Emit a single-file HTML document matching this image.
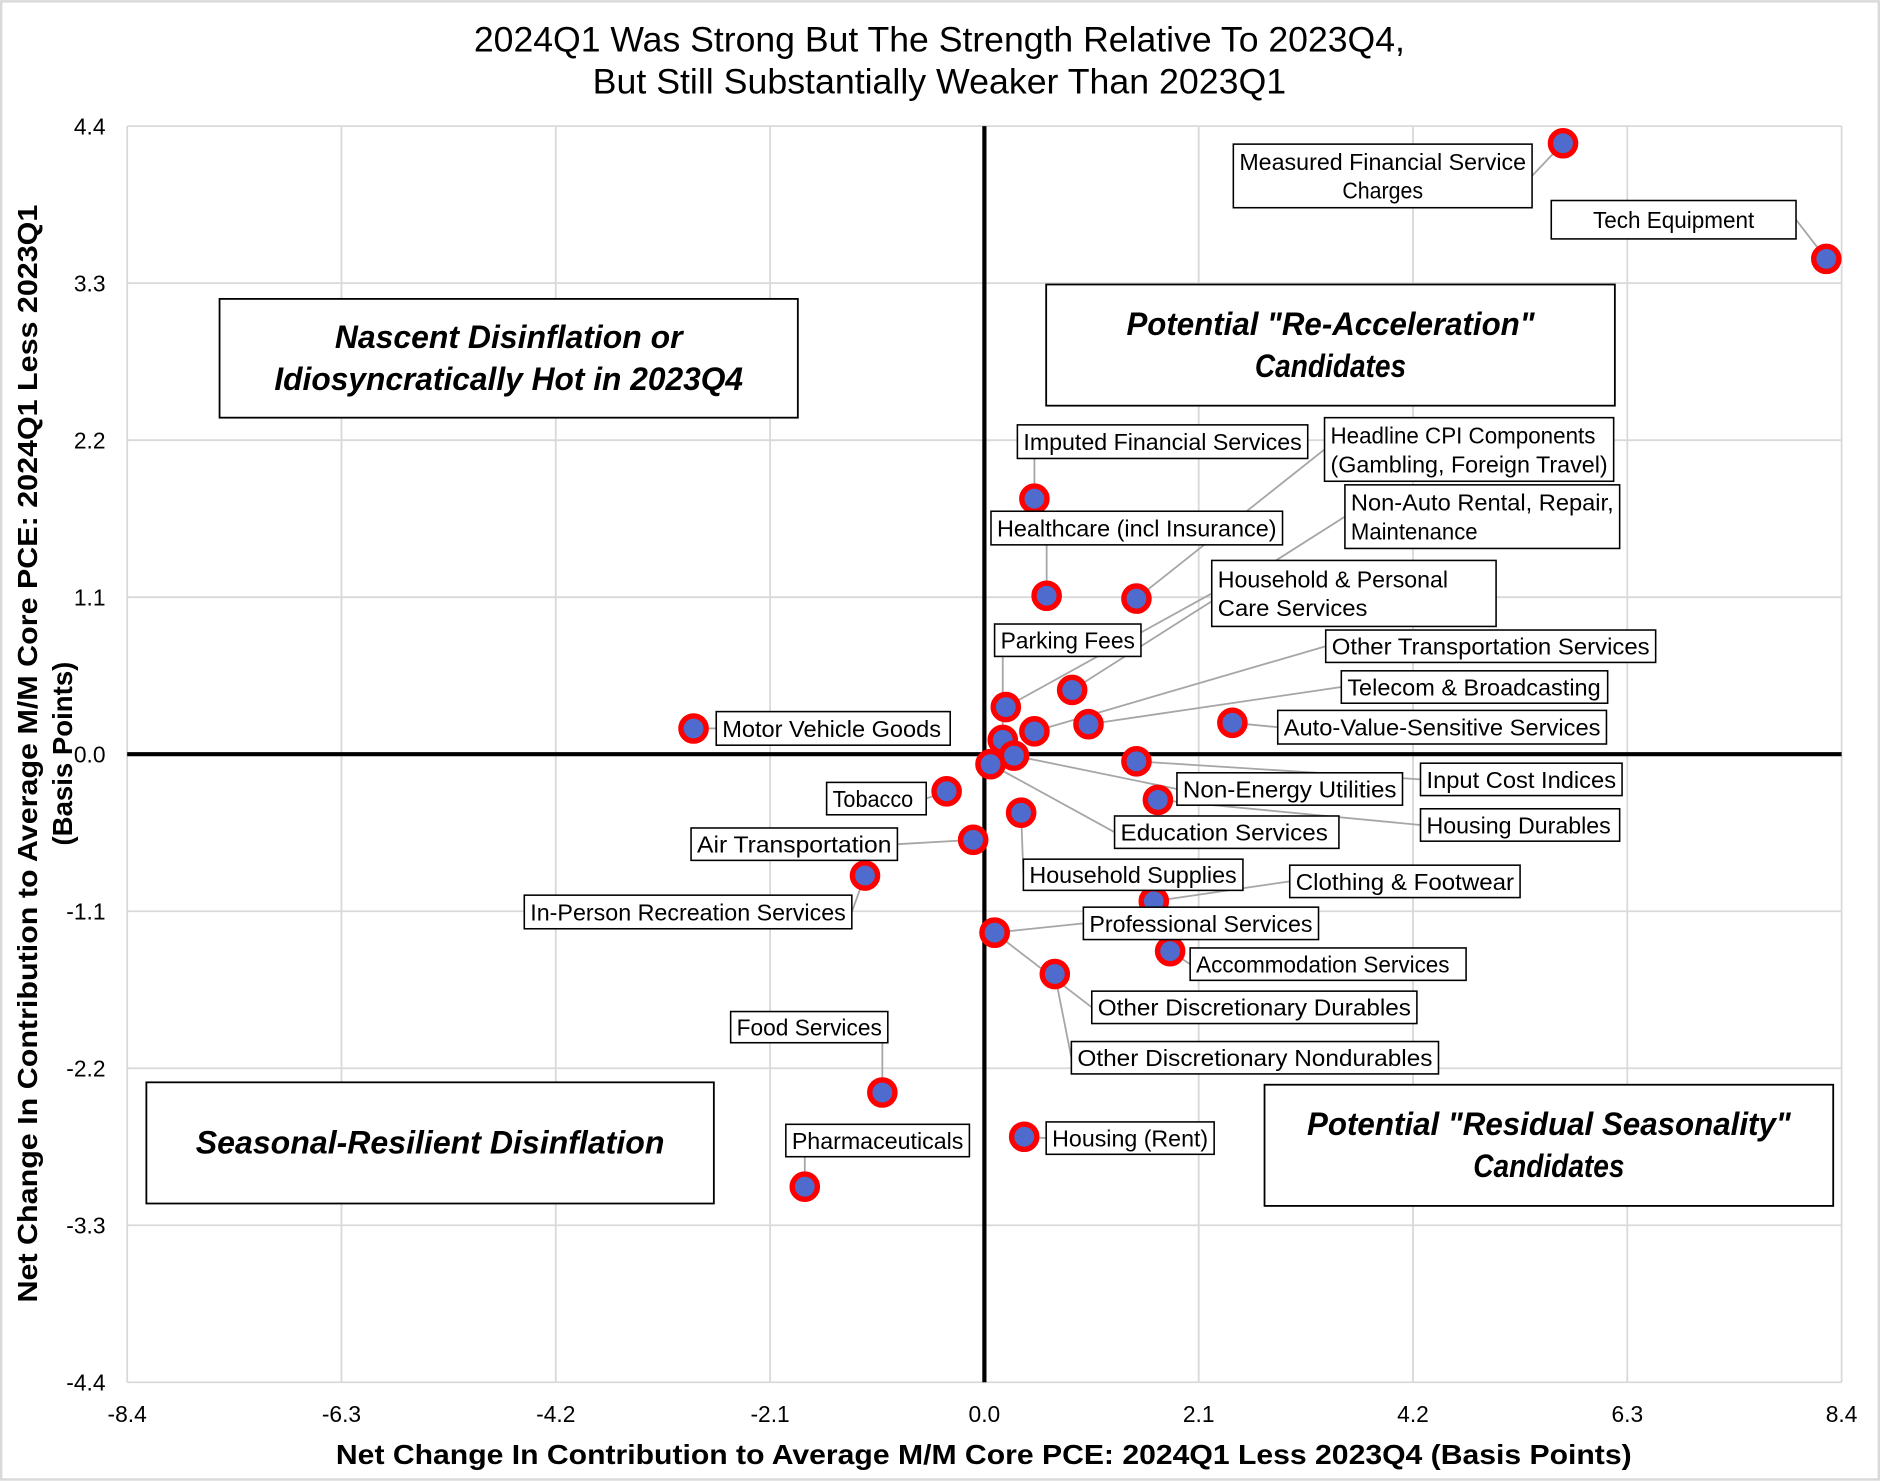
<!DOCTYPE html>
<html><head><meta charset="utf-8"><style>
html,body{margin:0;padding:0;background:#fff}
svg{display:block}
text{font-family:"Liberation Sans",sans-serif;fill:#000}
</style></head><body>
<svg id="chart" width="1880" height="1482" viewBox="0 0 1567 1235" xmlns="http://www.w3.org/2000/svg">
<rect x="1" y="1" width="1565" height="1232" fill="#fff" stroke="#d9d9d9" stroke-width="2"/>
<text x="783" y="43" font-size="29" text-anchor="middle" textLength="776" lengthAdjust="spacingAndGlyphs">2024Q1 Was Strong But The Strength Relative To 2023Q4,</text>
<text x="783" y="78" font-size="29" text-anchor="middle" textLength="578" lengthAdjust="spacingAndGlyphs">But Still Substantially Weaker Than 2023Q1</text>
<g id="grid"></g>
<g id="axes"></g>
<g id="quads"></g>
<g id="leaders"></g>
<g id="points"></g>
<g id="labels"></g>
<text x="820" y="1220" font-size="23" font-weight="bold" text-anchor="middle" textLength="1080" lengthAdjust="spacingAndGlyphs">Net Change In Contribution to Average M/M Core PCE: 2024Q1 Less 2023Q4 (Basis Points)</text>
<text transform="translate(31,628) rotate(-90)" font-size="23" font-weight="bold" text-anchor="middle" textLength="915" lengthAdjust="spacingAndGlyphs">Net Change In Contribution to Average M/M Core PCE: 2024Q1 Less 2023Q1</text>
<text transform="translate(60,628) rotate(-90)" font-size="23" font-weight="bold" text-anchor="middle">(Basis Points)</text>
</svg>
<script>
const xTicks = [-8.4,-6.3,-4.2,-2.1,0.0,2.1,4.2,6.3,8.4];
const yTicks = [4.4,3.3,2.2,1.1,0.0,-1.1,-2.2,-3.3,-4.4];
const names = ["Measured Financial Service Charges","Tech Equipment","Imputed Financial Services","Healthcare (incl Insurance)","Headline CPI Components (Gambling, Foreign Travel)","Non-Auto Rental, Repair, Maintenance","Household & Personal Care Services","Parking Fees","Other Transportation Services","Telecom & Broadcasting","Auto-Value-Sensitive Services","Input Cost Indices","Non-Energy Utilities","Housing Durables","Education Services","Household Supplies","Clothing & Footwear","Professional Services","Accommodation Services","Other Discretionary Durables","Other Discretionary Nondurables","Motor Vehicle Goods","Tobacco","Air Transportation","In-Person Recreation Services","Food Services","Pharmaceuticals","Housing (Rent)"];
const xVals = [5.67,8.25,0.49,0.61,1.49,0.86,0.21,0.18,0.49,1.02,2.43,1.49,0.29,1.70,0.06,0.36,1.66,0.10,1.82,0.10,0.69,-2.85,-0.37,-0.11,-1.17,-1.00,-1.76,0.39];
const yVals = [4.28,3.47,1.79,1.11,1.09,0.45,0.33,0.10,0.16,0.21,0.22,-0.05,-0.01,-0.32,-0.07,-0.41,-1.03,-1.25,-1.38,-1.25,-1.54,0.18,-0.26,-0.60,-0.85,-2.37,-3.03,-2.68];
// label box layout [x,y,w,h] in chart pixels and text lines
const boxes = [[1028,120,249,53],[1293,167,204,32],[848,354,242,28],[826,426,243,28],[1104,348,241,53],[1121,404,229,53],[1010,467,237,55],[829,520,122,27],[1105,525,275,27],[1118,559,222,27],[1065,592,274,28],[1184,636,168,27],[981,644,188,27],[1184,674,166,27],[929,680,187,27],[853,716,183,26],[1075,721,192,27],[903,756,196,27],[992,790,230,27],[910,826,271,27],[893,868,306,27],[597,593,195,28],[689,652,83,27],[576,690,172,27],[437,746,273,28],[609,843,131,26],[655,937,153,27],[872,935,140,27]];
const lines = [["Measured Financial Service","Charges"],["Tech Equipment"],["Imputed Financial Services"],["Healthcare (incl Insurance)"],["Headline CPI Components","(Gambling, Foreign Travel)"],["Non-Auto Rental, Repair,","Maintenance"],["Household & Personal","Care Services"],["Parking Fees"],["Other Transportation Services"],["Telecom & Broadcasting"],["Auto-Value-Sensitive Services"],["Input Cost Indices"],["Non-Energy Utilities"],["Housing Durables"],["Education Services"],["Household Supplies"],["Clothing & Footwear"],["Professional Services"],["Accommodation Services"],["Other Discretionary Durables"],["Other Discretionary Nondurables"],["Motor Vehicle Goods"],["Tobacco"],["Air Transportation"],["In-Person Recreation Services"],["Food Services"],["Pharmaceuticals"],["Housing (Rent)"]];
const centered = [true,true,false,false,false,false,false,false,false,false,false,false,false,false,false,false,false,false,false,false,false,false,false,false,false,false,false,false];

const NS="http://www.w3.org/2000/svg";
const L=106,R=1535,T=105,B=1152,XMIN=-8.4,XMAX=8.4,YMIN=-4.4,YMAX=4.4;
const sx=v=>L+(v-XMIN)/(XMAX-XMIN)*(R-L);
const sy=v=>B-(v-YMIN)/(YMAX-YMIN)*(B-T);
function mk(tag,attrs,parent){const e=document.createElementNS(NS,tag);for(const k in attrs)e.setAttribute(k,attrs[k]);parent.appendChild(e);return e;}
const grid=document.getElementById('grid'),axes=document.getElementById('axes');
xTicks.forEach(t=>{
  const l=mk('line',{x1:sx(t),x2:sx(t),y1:T,y2:B,stroke:'#d9d9d9','stroke-width':1.5},grid);
  
  
  const tx=mk('text',{x:sx(t),y:B+33,'font-size':19,'text-anchor':'middle'},axes);
  tx.textContent=t.toFixed(1);
  
  
});
yTicks.forEach(t=>{
  const l=mk('line',{x1:L,x2:R,y1:sy(t),y2:sy(t),stroke:'#d9d9d9','stroke-width':1.5},grid);
  
  
  const tx=mk('text',{x:88,y:sy(t)+7,'font-size':19,'text-anchor':'end'},axes);
  tx.textContent=t.toFixed(1);
  
  
});
let a=mk('line',{x1:sx(0),x2:sx(0),y1:T,y2:B,stroke:'#000','stroke-width':3.5},axes);


a=mk('line',{x1:L,x2:R,y1:sy(0),y2:sy(0),stroke:'#000','stroke-width':3.5},axes);



const quads=document.getElementById('quads');
[[183,249,482,99,["Nascent Disinflation or","Idiosyncratically Hot in 2023Q4"],'quadrant-nw'],
 [872,237,474,101,['Potential "Re-Acceleration"',"Candidates"],'quadrant-ne'],
 [122,902,473,101,["Seasonal-Resilient Disinflation"],'quadrant-sw'],
 [1054,904,474,101,['Potential "Residual Seasonality"',"Candidates"],'quadrant-se']].forEach(q=>{
  const g=mk('g',{},quads);
  
  
  mk('rect',{x:q[0],y:q[1],width:q[2],height:q[3],fill:'#fff',stroke:'#000','stroke-width':1.5},g);
  const n=q[4].length,cy=q[1]+q[3]/2;
  q[4].forEach((s,i)=>{const t=mk('text',{x:q[0]+q[2]/2,y:cy+(i-(n-1)/2)*35+9,'font-size':27,'font-weight':'bold','font-style':'italic','text-anchor':'middle',textLength:s.length*12.6,lengthAdjust:'spacingAndGlyphs'},g);t.textContent=s;});
});

const leaders=document.getElementById('leaders'),points=document.getElementById('points'),labels=document.getElementById('labels');
names.forEach((nm,i)=>{
  const px=sx(xVals[i]),py=sy(yVals[i]);
  const [bx,by,bw,bh]=boxes[i];
  let ax,ay;
  if(px<bx){ax=bx;ay=by+bh/2;}else if(px>bx+bw){ax=bx+bw;ay=by+bh/2;}else{ax=Math.min(Math.max(px,bx),bx+bw);ay=py<by?by:by+bh;}
  const ln=mk('line',{x1:ax,y1:ay,x2:px,y2:py,stroke:'#a6a6a6','stroke-width':1.5},leaders);
  
  
  const c=mk('circle',{cx:px,cy:py,r:10.5,fill:'#4f6bcd',stroke:'#ff0000','stroke-width':4.5},points);
  
  
  const g=mk('g',{},labels);
  
  
  mk('rect',{x:bx,y:by,width:bw,height:bh,fill:'#fff',stroke:'#000','stroke-width':1.3},g);
  const ls=lines[i],n=ls.length;
  ls.forEach((s,k)=>{
    const t=mk('text',{x:centered[i]?bx+bw/2:bx+5,y:by+bh/2+(k-(n-1)/2)*24+7,'font-size':19,'text-anchor':centered[i]?'middle':'start',textLength:Math.min(bw-10,s.length*9.6),lengthAdjust:'spacingAndGlyphs'},g);
    t.textContent=s;
  });
});
</script>
</body></html>
